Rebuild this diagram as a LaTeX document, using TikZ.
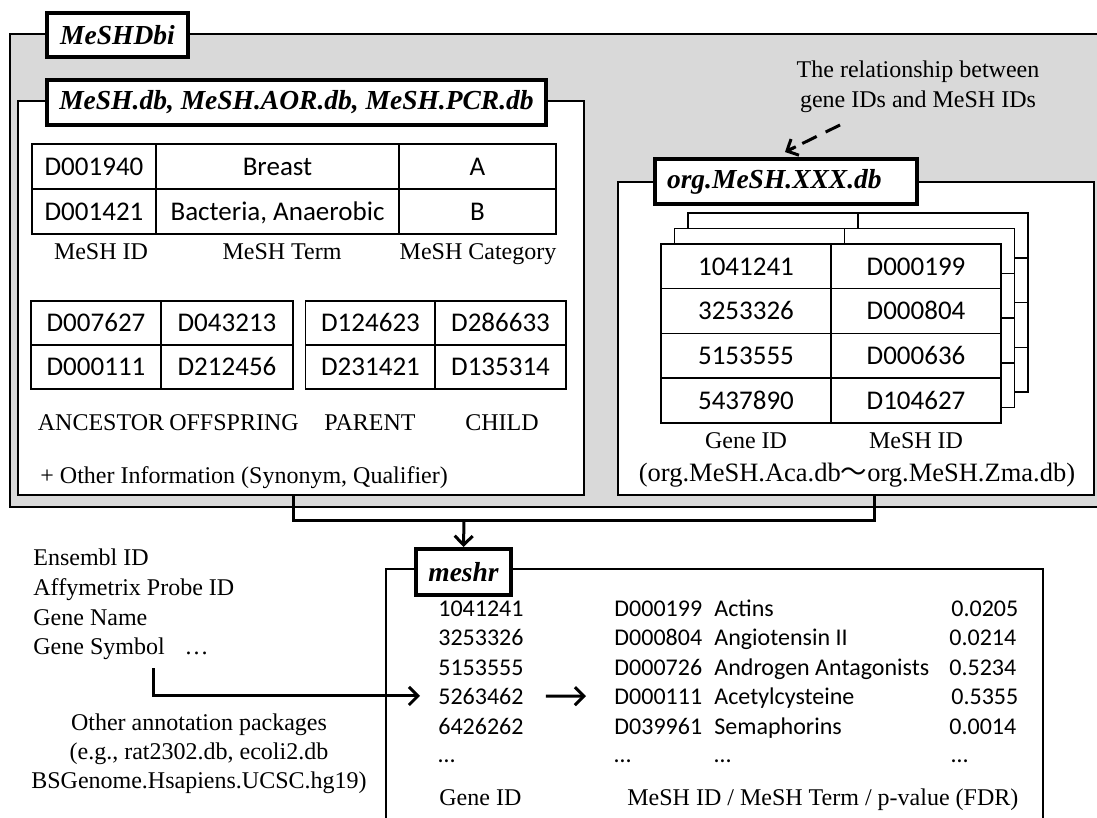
\documentclass[tikz,border=0pt]{standalone}
\usepackage{fontspec}
\setmainfont{Liberation Serif}
\newfontfamily\calib{Carlito}
\newfontfamily\cjkf{Noto Sans CJK JP}
\usetikzlibrary{arrows.meta,fit,calc}
\definecolor{panelgray}{HTML}{D9D9D9}
\begin{document}
\begin{tikzpicture}[x=0.5pt,y=-0.5pt,
  box/.style={draw, line width=1.25pt, fill=white, inner sep=0pt},
  tab/.style={draw, line width=2pt, fill=white, inner sep=0pt, font=\fontsize{13.75}{16}\selectfont\bfseries\itshape},
  cell/.style={draw, line width=0.75pt, fill=white, inner sep=0pt, text height=8.7pt, text depth=0pt, font=\calib\fontsize{13.5}{16}\selectfont},
  lbl/.style={inner sep=0pt, anchor=base, font=\fontsize{12}{14}\selectfont},
  lblw/.style={inner sep=0pt, anchor=base west, font=\fontsize{12}{14}\selectfont},
  mtxt/.style={inner sep=0pt, anchor=base west, font=\calib\fontsize{12}{14}\selectfont},
  conn/.style={line width=1.5pt},
  arr/.style={line width=1.5pt, -{Straight Barb[length=4.5pt,width=9pt,line width=1.5pt]}},
]
\useasboundingbox (0,0) rectangle (1097,818);
\clip (0,0) rectangle (1097,818);

% ---------- MeSHDbi outer panel ----------
\coordinate (o1) at (10,34); \coordinate (o2) at (1115,507);
\node[box, fill=panelgray, fit=(o1)(o2)] (meshdbi) {};
\node[tab, minimum width=70.5pt, minimum height=22pt] (meshdbitab) at (117.5,35) {MeSHDbi};

% ---------- MeSH.db box ----------
\coordinate (l1) at (18,101); \coordinate (l2) at (584,495);
\node[box, fit=(l1)(l2)] (meshdb) {};
\node[tab, minimum width=249.5pt, minimum height=22.5pt] (meshdbtab) at (296.5,102.5) {MeSH.db, MeSH.AOR.db, MeSH.PCR.db};

% MeSH table
\node[cell, minimum width=62pt, minimum height=22.5pt] (t11) at (94,166.5) {D001940};
\node[cell, minimum width=121.5pt, minimum height=22.5pt] (t12) at (277.5,166.5) {Breast};
\node[cell, minimum width=78.5pt, minimum height=22.5pt] (t13) at (477.5,166.5) {A};
\node[cell, minimum width=62pt, minimum height=22.5pt] (t21) at (94,211.5) {D001421};
\node[cell, minimum width=121.5pt, minimum height=22.5pt] (t22) at (277.5,211.5) {Bacteria, Anaerobic};
\node[cell, minimum width=78.5pt, minimum height=22.5pt] (t23) at (477.5,211.5) {B};
\node[lbl] (lmid) at (101,260) {MeSH ID};
\node[lbl] (lmterm) at (282,260) {MeSH Term};
\node[lbl] (lmcat) at (478,260) {MeSH Category};

% Ancestor / offspring / parent / child tables
\node[cell, minimum width=65pt, minimum height=22pt] (a11) at (96,323) {D007627};
\node[cell, minimum width=66pt, minimum height=22pt] (a12) at (227,323) {D043213};
\node[cell, minimum width=65pt, minimum height=22pt] (a21) at (96,367) {D000111};
\node[cell, minimum width=66pt, minimum height=22pt] (a22) at (227,367) {D212456};
\node[cell, minimum width=65pt, minimum height=22pt] (p11) at (370.5,323) {D124623};
\node[cell, minimum width=65.5pt, minimum height=22pt] (p12) at (500.5,323) {D286633};
\node[cell, minimum width=65pt, minimum height=22pt] (p21) at (370.5,367) {D231421};
\node[cell, minimum width=65.5pt, minimum height=22pt] (p22) at (500.5,367) {D135314};
\node[lbl] (lanc) at (101,430) {ANCESTOR};
\node[lbl] (loff) at (234,430) {OFFSPRING};
\node[lbl] (lpar) at (370,430) {PARENT};
\node[lbl] (lchi) at (502,430) {CHILD};
\node[lblw] (lother) at (40,483) {+ Other Information (Synonym, Qualifier)};

% ---------- org.MeSH.XXX.db box ----------
\coordinate (r1) at (618,182); \coordinate (r2) at (1094,495);
\node[box, fit=(r1)(r2)] (orgdb) {};
\node[tab, anchor=west, inner xsep=6pt, text width=119pt, align=left, minimum height=22.5pt] (orgtab) at (653,181.5) {org.MeSH.XXX.db};

% stacked tables (back layers)
\foreach \k in {2,1} {
  \foreach \r in {0,1,2,3} {
    \node[cell, minimum width=85pt, minimum height=22.375pt] (bk\k a\r) at ({746+13.5*\k},{266.4+44.75*\r-15.5*\k}) {};
    \node[cell, minimum width=85pt, minimum height=22.375pt] (bk\k b\r) at ({916+13.5*\k},{266.4+44.75*\r-15.5*\k}) {};
  }
}
% front table
\node[cell, minimum width=85pt, minimum height=22.375pt] (g0) at (746,266.4) {1041241};
\node[cell, minimum width=85pt, minimum height=22.375pt] (d0) at (916,266.4) {D000199};
\node[cell, minimum width=85pt, minimum height=22.375pt] (g1) at (746,311.1) {3253326};
\node[cell, minimum width=85pt, minimum height=22.375pt] (d1) at (916,311.1) {D000804};
\node[cell, minimum width=85pt, minimum height=22.375pt] (g2) at (746,355.9) {5153555};
\node[cell, minimum width=85pt, minimum height=22.375pt] (d2) at (916,355.9) {D000636};
\node[cell, minimum width=85pt, minimum height=22.375pt] (g3) at (746,400.6) {5437890};
\node[cell, minimum width=85pt, minimum height=22.375pt] (d3) at (916,400.6) {D104627};
\node[lbl] (lgid) at (746,448) {Gene ID};
\node[lbl] (lmshid) at (916,448) {MeSH ID};
\node[lbl, font=\fontsize{13.25}{15}\selectfont] (lorgrange) at (857,481) {(org.MeSH.Aca.db{\cjkf ～}org.MeSH.Zma.db)};

% relationship note
\node[lbl] (rel1) at (918,78) {The relationship between};
\node[lbl] (rel2) at (918,108) {gene IDs and MeSH IDs};
\coordinate (relstart) at (840,125);
\coordinate (reltip) at (785,152);
\coordinate (relpre) at ($(reltip)!6pt!(relstart)$);
\draw[conn, dash pattern=on 8pt off 5pt, shorten >=2pt] (relstart) -- (reltip);
\draw[arr] (relpre) -- (reltip);

% ---------- meshr box ----------
\coordinate (m1) at (386,569); \coordinate (m2) at (1043,850);
\node[box, line width=1pt, fit=(m1)(m2)] (meshr) {};
\node[tab, minimum width=47.5pt, minimum height=23pt] (meshrtab) at (463.5,572) {meshr};

% connectors from the databases into meshr
\coordinate (jl) at (293,495);
\coordinate (jr) at (874,495);
\coordinate (jm) at (464,520);
\draw[conn] (jl) |- (jm) -| (jr);
\draw[arr] (jm) -- (meshrtab.north);

% meshr contents
\node[mtxt] (mg1) at (438,616) {1041241};
\node[mtxt] (mg2) at (438,645) {3253326};
\node[mtxt] (mg3) at (438,675) {5153555};
\node[mtxt] (mg4) at (438,704) {5263462};
\node[mtxt] (mg5) at (438,734) {6426262};
\node[mtxt] (mg6) at (438,762) {…};
\node[mtxt] (mi1) at (614,616) {D000199};
\node[mtxt] (mi2) at (614,645) {D000804};
\node[mtxt] (mi3) at (614,675) {D000726};
\node[mtxt] (mi4) at (614,704) {D000111};
\node[mtxt] (mi5) at (614,734) {D039961};
\node[mtxt] (mi6) at (614,762) {…};
\node[mtxt] (mt1) at (714,616) {Actins};
\node[mtxt] (mt2) at (714,645) {Angiotensin II};
\node[mtxt] (mt3) at (714,675) {Androgen Antagonists};
\node[mtxt] (mt4) at (714,704) {Acetylcysteine};
\node[mtxt] (mt5) at (714,734) {Semaphorins};
\node[mtxt] (mt6) at (714,762) {…};
\node[mtxt] (mp1) at (951,616) {0.0205};
\node[mtxt] (mp2) at (949,645) {0.0214};
\node[mtxt] (mp3) at (949,675) {0.5234};
\node[mtxt] (mp4) at (951,704) {0.5355};
\node[mtxt] (mp5) at (949,734) {0.0014};
\node[mtxt] (mp6) at (951,762) {…};
\node[lblw] (mlg) at (439,805) {Gene ID};
\node[lblw] (mlm) at (627,805) {MeSH ID / MeSH Term / p-value (FDR)};
\draw[arr, shorten <=11pt, shorten >=14pt] (mg4.east) -- (mi4.west);

% ---------- other ID types ----------
\node[lblw] (ens) at (33,565) {Ensembl ID};
\node[lblw] (affy) at (33,595) {Affymetrix Probe ID};
\node[lblw] (gname) at (33,625) {Gene Name};
\node[lblw] (gsym) at (33,654) {Gene Symbol\hspace{10pt}…};
\coordinate (gsStart) at (153,668);
\draw[arr, shorten >=9pt] (gsStart) |- (mg4.west);

\node[lbl] (oa1) at (199,730) {Other annotation packages};
\node[lbl] (oa2) at (199,759) {(e.g., rat2302.db, ecoli2.db};
\node[lbl] (oa3) at (199,788) {BSGenome.Hsapiens.UCSC.hg19)};
\end{tikzpicture}
\end{document}
